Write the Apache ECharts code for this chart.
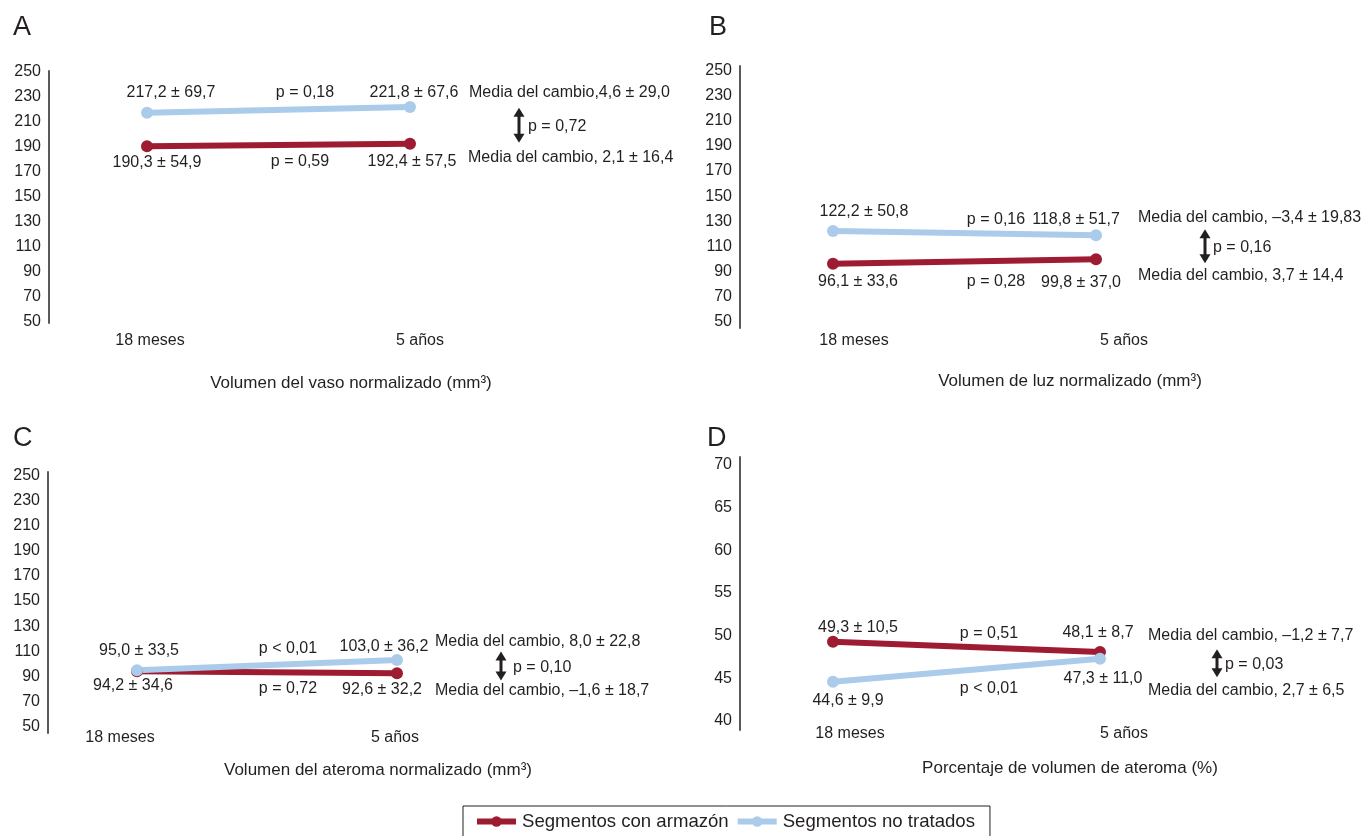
<!DOCTYPE html>
<html>
<head>
<meta charset="utf-8">
<script src="https://cdn.jsdelivr.net/npm/echarts@6/dist/echarts.min.js"></script>
<style>
  html, body { margin: 0; padding: 0; background: #fff; }
  #main { width: 1361px; height: 836px; }
</style>
</head>
<body>
<div id="main"></div>
<script>
// ---- Data ----
const categories = ['18 meses', '5 años'];
const seriesNames = ['Segmentos con armazón', 'Segmentos no tratados'];
const volTicks = [50, 70, 90, 110, 130, 150, 170, 190, 210, 230, 250];
const pctTicks = [40, 45, 50, 55, 60, 65, 70];

// A: volumen del vaso
const vasoArmazonMean = [190.3, 192.4];
const vasoArmazonSD = [54.9, 57.5];
const vasoNoTratMean = [217.2, 221.8];
const vasoNoTratSD = [69.7, 67.6];
const vasoArmazonP = 'p = 0,59';
const vasoNoTratP = 'p = 0,18';
const vasoArmazonCambio = 'Media del cambio, 2,1 ± 16,4';
const vasoNoTratCambio = 'Media del cambio,4,6 ± 29,0';
const vasoPEntre = 'p = 0,72';

// B: volumen de luz
const luzArmazonMean = [96.1, 99.8];
const luzArmazonSD = [33.6, 37.0];
const luzNoTratMean = [122.2, 118.8];
const luzNoTratSD = [50.8, 51.7];
const luzArmazonP = 'p = 0,28';
const luzNoTratP = 'p = 0,16';
const luzArmazonCambio = 'Media del cambio, 3,7 ± 14,4';
const luzNoTratCambio = 'Media del cambio, –3,4 ± 19,83';
const luzPEntre = 'p = 0,16';

// C: volumen del ateroma
const atArmazonMean = [94.2, 92.6];
const atArmazonSD = [34.6, 32.2];
const atNoTratMean = [95.0, 103.0];
const atNoTratSD = [33.5, 36.2];
const atArmazonP = 'p = 0,72';
const atNoTratP = 'p < 0,01';
const atArmazonCambio = 'Media del cambio, –1,6 ± 18,7';
const atNoTratCambio = 'Media del cambio, 8,0 ± 22,8';
const atPEntre = 'p = 0,10';

// D: porcentaje de volumen de ateroma
const pctArmazonMean = [49.3, 48.1];
const pctArmazonSD = [10.5, 8.7];
const pctNoTratMean = [44.6, 47.3];
const pctNoTratSD = [9.9, 11.0];
const pctArmazonP = 'p = 0,51';
const pctNoTratP = 'p < 0,01';
const pctArmazonCambio = 'Media del cambio, –1,2 ± 7,7';
const pctNoTratCambio = 'Media del cambio, 2,7 ± 6,5';
const pctPEntre = 'p = 0,03';

// ---- Styles ----
const RED = '#9d1c32';
const BLUE = '#abcbeb';
const INK = '#231f20';
const FONT = '"Liberation Sans", Arial, Helvetica, sans-serif';

const panels = [
  {
    letter: 'A', title: 'Volumen del vaso normalizado (mm³)', ticks: volTicks,
    armazon: { mean: vasoArmazonMean, sd: vasoArmazonSD, p: vasoArmazonP, cambio: vasoArmazonCambio },
    noTrat: { mean: vasoNoTratMean, sd: vasoNoTratSD, p: vasoNoTratP, cambio: vasoNoTratCambio },
    pEntre: vasoPEntre,
    axisX: 49, x0: 147, x1: 410, top: 71, bottom: 323, range: [49, 250.5],
    catShift: [3, 10], catMargin: 10, letterPos: [13, 28], titlePos: [351, 383],
    offA: { val: [[10, 16], [2, 18]], p: [21.5, 17], media: [58, 14] },
    offN: { val: [[24, -20], [4, -14]], p: [26.5, -17], media: [59, -14] },
    arrow: { dx: 109, len: 35, pdx: 9 }
  },
  {
    letter: 'B', title: 'Volumen de luz normalizado (mm³)', ticks: volTicks,
    armazon: { mean: luzArmazonMean, sd: luzArmazonSD, p: luzArmazonP, cambio: luzArmazonCambio },
    noTrat: { mean: luzNoTratMean, sd: luzNoTratSD, p: luzNoTratP, cambio: luzNoTratCambio },
    pEntre: luzPEntre,
    axisX: 740, x0: 833, x1: 1096, top: 66, bottom: 328, range: [45, 253.7],
    catShift: [21, 28], catMargin: 5, letterPos: [709, 28], titlePos: [1070, 381],
    offA: { val: [[25, 18], [-15, 23]], p: [31.5, 20.5], media: [42, 16] },
    offN: { val: [[31, -19], [-20, -16]], p: [31.5, -14], media: [42, -18] },
    arrow: { dx: 109, len: 34, pdx: 8 }
  },
  {
    letter: 'C', title: 'Volumen del ateroma normalizado (mm³)', ticks: volTicks,
    armazon: { mean: atArmazonMean, sd: atArmazonSD, p: atArmazonP, cambio: atArmazonCambio },
    noTrat: { mean: atNoTratMean, sd: atNoTratSD, p: atNoTratP, cambio: atNoTratCambio },
    pEntre: atPEntre,
    axisX: 48, x0: 137, x1: 397, top: 472, bottom: 733, range: [45, 252.6],
    catShift: [-17, -2], catMargin: -3, letterPos: [13, 439], titlePos: [378, 770],
    offA: { val: [[-4, 14], [-15, 16]], p: [21, 16], media: [38, 17] },
    offN: { val: [[2, -20], [-13, -13]], p: [21, -17], media: [38, -18] },
    arrow: { dx: 104, len: 29, pdx: 12 }
  },
  {
    letter: 'D', title: 'Porcentaje de volumen de ateroma (%)', ticks: pctTicks,
    armazon: { mean: pctArmazonMean, sd: pctArmazonSD, p: pctArmazonP, cambio: pctArmazonCambio },
    noTrat: { mean: pctNoTratMean, sd: pctNoTratSD, p: pctNoTratP, cambio: pctNoTratCambio },
    pEntre: pctPEntre,
    axisX: 740, x0: 833, x1: 1100, top: 457, bottom: 730, range: [38.95, 70.93],
    catShift: [17, 24], catMargin: -4, letterPos: [707, 439], titlePos: [1070, 768],
    offA: { val: [[25, -14], [-2, -19]], p: [22.5, -13.5], media: [48, -16] },
    offN: { val: [[15, 19], [3, 20]], p: [22.5, 18], media: [48, 32] },
    arrow: { dx: 117, len: 28, pdx: 8 }
  }
];

const fmt = v => v.toFixed(1).replace('.', ',');

const grids = [], xAxes = [], yAxes = [], series = [];
panels.forEach((pn, g) => {
  grids.push({
    left: pn.x0, top: pn.top, width: pn.x1 - pn.x0, height: pn.bottom - pn.top,
    containLabel: false, outerBoundsMode: 'none'
  });
  const rich = {};
  pn.catShift.forEach((s, i) => {
    rich['c' + i] = {
      fontSize: 16, fontFamily: FONT, color: INK,
      padding: s >= 0 ? [0, 0, 0, 2 * s] : [0, -2 * s, 0, 0]
    };
  });
  xAxes.push({
    gridIndex: g, type: 'category', data: categories, boundaryGap: false,
    axisLine: { show: false }, axisTick: { show: false }, splitLine: { show: false },
    axisLabel: {
      margin: pn.catMargin, fontSize: 16, fontFamily: FONT, color: INK,
      formatter: (v, i) => `{c${i}|${v}}`, rich
    }
  });
  yAxes.push({
    gridIndex: g, type: 'value', min: pn.range[0], max: pn.range[1],
    offset: pn.x0 - pn.axisX,
    axisLine: { show: true, lineStyle: { color: '#58595b', width: 2 } },
    axisTick: { show: false }, splitLine: { show: false },
    axisLabel: { customValues: pn.ticks, fontSize: 16, fontFamily: FONT, color: INK, margin: 8 }
  });
  [[pn.armazon, RED, seriesNames[0]], [pn.noTrat, BLUE, seriesNames[1]]].forEach(([grp, col, name]) => {
    series.push({
      type: 'line', name, xAxisIndex: g, yAxisIndex: g, data: grp.mean,
      symbol: 'circle', symbolSize: 12, showSymbol: true,
      lineStyle: { width: 6, color: col }, itemStyle: { color: col },
      emphasis: { disabled: true }, silent: true
    });
  });
});

const chart = echarts.init(document.getElementById('main'), null, { renderer: 'canvas' });
chart.setOption({
  animation: false,
  backgroundColor: '#ffffff',
  grid: grids, xAxis: xAxes, yAxis: yAxes, series,
  legend: {
    data: seriesNames, left: 463, top: 806, orient: 'horizontal',
    itemWidth: 39, itemHeight: 13, itemGap: 6,
    padding: [6, 15, 20, 11], borderColor: INK, borderWidth: 1,
    lineStyle: { width: 6 },
    textStyle: { fontSize: 18.6, fontFamily: FONT, color: INK, padding: [0, 0, 0, 1] },
    selectedMode: false
  }
});

// ---- Annotations placed from the axes' own scales ----
function text(x, y, str, opts) {
  return {
    type: 'text', x, y, silent: true,
    style: Object.assign({
      text: str, fill: INK, fontSize: 16, fontFamily: FONT,
      textAlign: 'center', textVerticalAlign: 'middle', align: 'center', verticalAlign: 'middle'
    }, opts || {})
  };
}
function arrow(cx, yTop, yBot) {
  const hw = 5.5, hh = 9;
  return [
    { type: 'rect', silent: true, shape: { x: cx - 1.5, y: yTop + hh - 1, width: 3, height: yBot - yTop - 2 * hh + 2 }, style: { fill: INK } },
    { type: 'polygon', silent: true, shape: { points: [[cx, yTop], [cx - hw, yTop + hh], [cx + hw, yTop + hh]] }, style: { fill: INK } },
    { type: 'polygon', silent: true, shape: { points: [[cx, yBot], [cx - hw, yBot - hh], [cx + hw, yBot - hh]] }, style: { fill: INK } }
  ];
}

const elements = [];
panels.forEach((pn, g) => {
  elements.push(text(pn.letterPos[0], pn.letterPos[1], pn.letter, { fontSize: 27, textAlign: 'left', align: 'left' }));
  elements.push(text(pn.titlePos[0], pn.titlePos[1], pn.title, { fontSize: 17 }));
  const mediaY = [];
  [[pn.armazon, pn.offA], [pn.noTrat, pn.offN]].forEach(([grp, off]) => {
    const pts = grp.mean.map((v, i) => chart.convertToPixel({ gridIndex: g }, [i, v]));
    pts.forEach((pt, i) => {
      elements.push(text(pt[0] + off.val[i][0], pt[1] + off.val[i][1], fmt(grp.mean[i]) + ' ± ' + fmt(grp.sd[i])));
    });
    const mx = (pts[0][0] + pts[1][0]) / 2, my = (pts[0][1] + pts[1][1]) / 2;
    elements.push(text(mx + off.p[0], my + off.p[1], grp.p));
    const y = pts[1][1] + off.media[1];
    mediaY.push(y);
    elements.push(text(pts[1][0] + off.media[0], y, grp.cambio, { textAlign: 'left', align: 'left' }));
  });
  const rx = chart.convertToPixel({ gridIndex: g }, [1, pn.armazon.mean[1]])[0];
  const cy = (mediaY[0] + mediaY[1]) / 2;
  const ax = rx + pn.arrow.dx;
  elements.push(...arrow(ax, cy - pn.arrow.len / 2, cy + pn.arrow.len / 2));
  elements.push(text(ax + pn.arrow.pdx, cy + 1, pn.pEntre, { textAlign: 'left', align: 'left' }));
});
chart.setOption({ graphic: { elements } });
</script>
</body>
</html>
